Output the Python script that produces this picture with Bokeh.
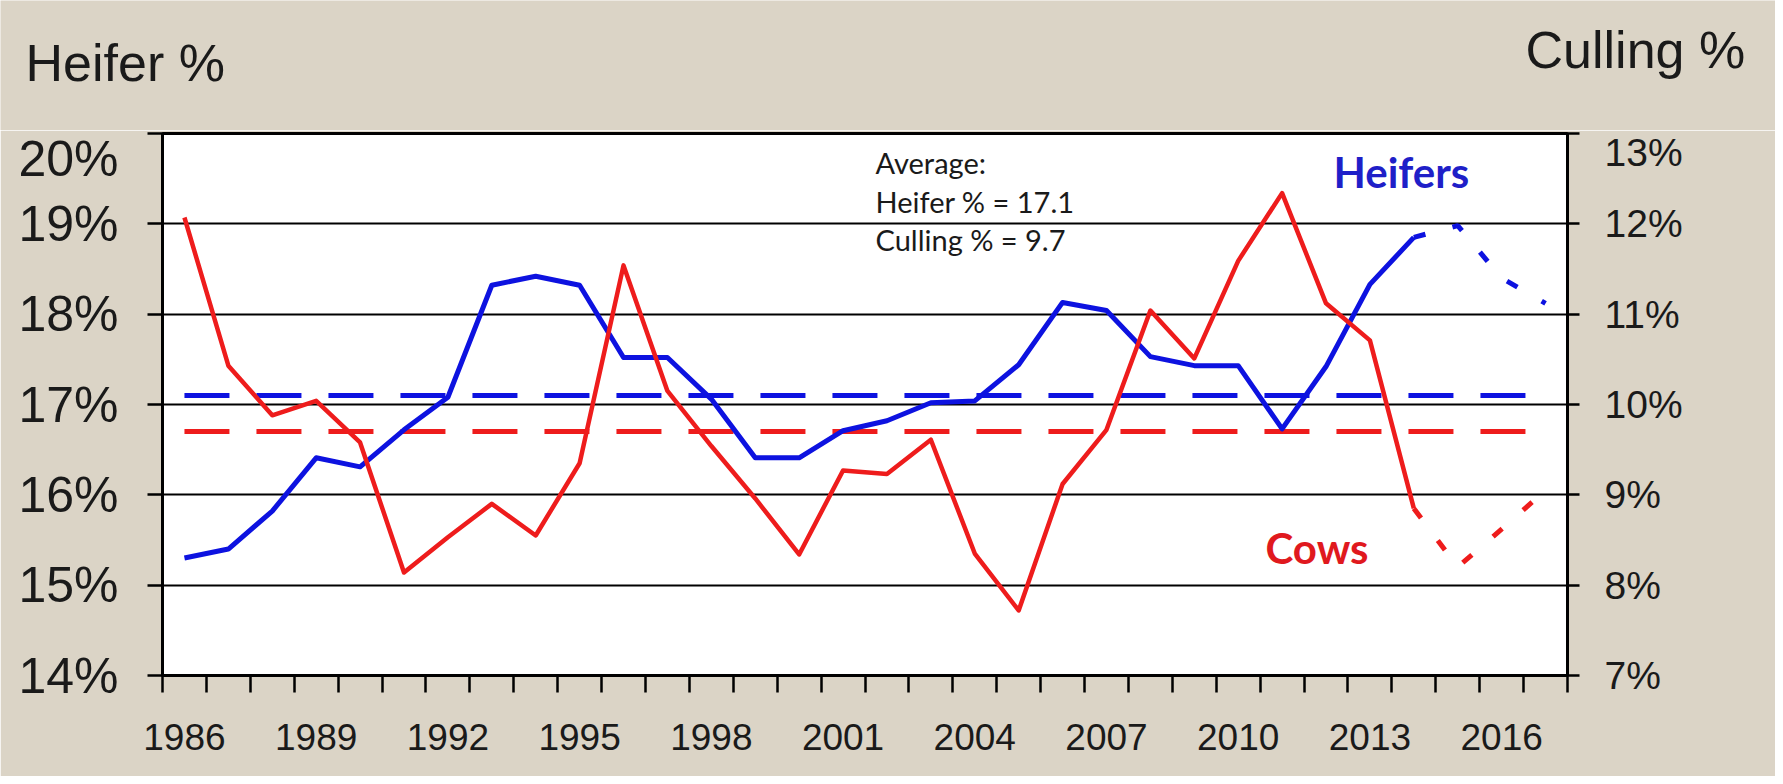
from bokeh.plotting import figure
from bokeh.layouts import column
from bokeh.models import Range1d, LinearAxis, FixedTicker, PrintfTickFormatter, Label
from bokeh.core.properties import value
from bokeh.embed import file_html
from bokeh.resources import INLINE

# ---- data ----
years = list(range(1986, 2015))
heifer_pct = [15.30, 15.40, 15.82, 16.41, 16.31, 16.72, 17.08, 18.32, 18.42, 18.32,
              17.52, 17.52, 17.06, 16.41, 16.41, 16.71, 16.82, 17.02, 17.04, 17.44,
              18.13, 18.04, 17.53, 17.43, 17.43, 16.73, 17.42, 18.33, 18.85]
culling_pct = [12.07, 10.43, 9.88, 10.04, 9.58, 8.14, 8.53, 8.90, 8.55, 9.35,
               11.54, 10.15, 9.54, 8.96, 8.34, 9.27, 9.23, 9.61, 8.35, 7.72,
               9.12, 9.72, 11.04, 10.51, 11.59, 12.34, 11.12, 10.71, 8.85]
proj_years = [2014, 2015, 2016, 2017]
heifer_proj = [18.85, 18.98, 18.40, 18.12]
culling_proj = [8.85, 8.20, 8.62, 9.05]
avg_years = [1986, 2017]
heifer_avg = 17.1
culling_avg = 9.7
x_label_years = list(range(1986, 2017, 3))
x_boundaries = [y - 0.5 for y in range(1986, 2019)]
left_ticks = [14, 15, 16, 17, 18, 19, 20]
right_ticks = [7, 8, 9, 10, 11, 12, 13]
axis_titles = ["Heifer %", "Culling %"]

BLUE = "#0D12E0"
RED = "#EE1C1C"
BG = "#DBD4C6"
TXT = "#1a1a1a"
SANS = "Liberation Sans"

W = 1775
HEAD_H = 130

# ---- header strip carrying the two axis titles ----
head = figure(width=W, height=HEAD_H, output_backend="svg", toolbar_location=None,
              x_range=Range1d(0, W), y_range=Range1d(HEAD_H, 0),
              x_axis_location=None, y_axis_location=None,
              min_border=0, min_border_left=0, min_border_right=0,
              min_border_top=0, min_border_bottom=0)
head.frame_align = False
head.background_fill_color = BG
head.border_fill_color = BG
head.outline_line_color = None
head.grid.visible = False
head.text(x=[25, 1525], y=[62, 49], text=axis_titles, text_font=value(SANS),
          text_font_size="52px", text_color=TXT, text_baseline="alphabetic",
          text_align="left")

# ---- main chart ----
p = figure(width=W, height=646, output_backend="svg", toolbar_location=None,
           x_range=Range1d(1985.5, 2017.5), y_range=Range1d(14, 20),
           min_border_left=162, min_border_right=208, min_border_top=3,
           min_border_bottom=101)
p.frame_align = False
p.background_fill_color = "white"
p.border_fill_color = BG
p.outline_line_color = "black"
p.outline_line_width = 3

p.extra_y_ranges = {"cull": Range1d(7, 13)}

xa = p.xaxis[0]
xa.ticker = FixedTicker(ticks=x_label_years, minor_ticks=x_boundaries)
xa.major_tick_line_color = None
xa.minor_tick_line_color = "black"
xa.minor_tick_line_width = 2.5
xa.minor_tick_out = 17
xa.minor_tick_in = 0
xa.axis_line_color = "black"
xa.axis_line_width = 3
xa.major_label_text_font = SANS
xa.major_label_text_font_size = "37px"
xa.major_label_text_color = TXT
xa.major_label_standoff = 31

ya = p.yaxis[0]
ya.ticker = FixedTicker(ticks=left_ticks)
ya.formatter = PrintfTickFormatter(format="%d%%")
ya.axis_line_color = "black"
ya.axis_line_width = 3
ya.major_tick_line_color = "black"
ya.major_tick_line_width = 2.5
ya.major_tick_out = 15
ya.major_tick_in = 0
ya.minor_tick_line_color = None
ya.major_label_text_font = SANS
ya.major_label_text_font_size = "50px"
ya.major_label_text_color = TXT
ya.major_label_standoff = 29

ra = LinearAxis(y_range_name="cull", ticker=FixedTicker(ticks=right_ticks),
                formatter=PrintfTickFormatter(format="%d%%"))
ra.axis_line_color = "black"
ra.axis_line_width = 3
ra.major_tick_line_color = "black"
ra.major_tick_line_width = 2.5
ra.major_tick_out = 12
ra.major_tick_in = 0
ra.minor_tick_line_color = None
ra.major_label_text_font = SANS
ra.major_label_text_font_size = "39px"
ra.major_label_text_color = TXT
ra.major_label_standoff = 25
p.add_layout(ra, "right")

p.xgrid.visible = False
p.ygrid.ticker = FixedTicker(ticks=left_ticks)
p.ygrid.grid_line_color = "black"
p.ygrid.grid_line_width = 2

p.line(avg_years, [heifer_avg, heifer_avg], color=BLUE, line_width=5, line_dash="45 27")
p.line(avg_years, [culling_avg, culling_avg], color=RED, line_width=5, line_dash="45 27",
       y_range_name="cull")
p.line(proj_years, heifer_proj, color=BLUE, line_width=5, line_dash="12 28")
p.line(proj_years, culling_proj, color=RED, line_width=5, line_dash="12 28",
       y_range_name="cull")
p.line(years, heifer_pct, color=BLUE, line_width=5, line_join="round")
p.line(years, culling_pct, color=RED, line_width=4.5, line_join="round", y_range_name="cull")

def lab(x, y, text, size, font=SANS, color=TXT, style="normal"):
    p.add_layout(Label(x=x, y=y, text=text, text_font=font, text_font_size=size,
                       text_color=color, text_font_style=style,
                       text_baseline="alphabetic", text_align="left"))

lab(2001.739, 19.676, "Average:", "29px", font="Lato")
lab(2001.739, 19.244, "Heifer % = {:.1f}".format(heifer_avg), "29px", font="Lato")
lab(2001.739, 18.824, "Culling % = {:.1f}".format(culling_avg), "29px", font="Lato")
lab(2012.171, 19.570, "Heifers", "42px", font="Lato", color="#1F1FC8", style="bold")
lab(2010.622, 15.408, "Cows", "42px", font="Lato", color="#E0191E", style="bold")

page = column(head, p, spacing=0)
open("out.html", "w").write(file_html(page, INLINE))
